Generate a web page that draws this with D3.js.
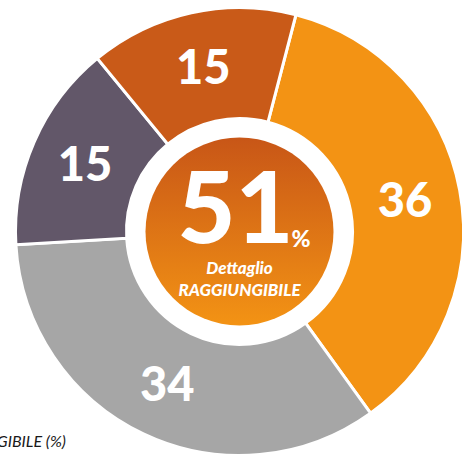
<!DOCTYPE html>
<html>
<head>
<meta charset="utf-8">
<script src="https://cdn.jsdelivr.net/npm/d3@7"></script>
<style>
  html, body { margin: 0; padding: 0; background: #fff; }
  svg { display: block; }
</style>
</head>
<body>
<div id="chart"></div>
<script>
var values = [36, 34, 15, 15];
var colors = ["#F39314", "#A6A6A6", "#625769", "#C95A18"];
var centerValue = 51;
var centerLines = ["Dettaglio", "RAGGIUNGIBILE"];
var footText = "RAGGIUNGIBILE (%)";

function init() {
    var w = 462, h = 457;
    var cx = 239.5, cy = 231.5;
    var outerR = 224, innerR = 113, discR = 94;
    var start = 14.6 * Math.PI / 180;
    var font = "Lato, 'Open Sans', sans-serif";

    var svg = d3.select("#chart").append("svg")
        .attr("width", w)
        .attr("height", h);

    var grad = svg.append("defs").append("linearGradient")
        .attr("id", "centerGrad")
        .attr("x1", 0).attr("y1", 0).attr("x2", 0).attr("y2", 1);
    grad.append("stop").attr("offset", "0%").attr("stop-color", "#C85617");
    grad.append("stop").attr("offset", "100%").attr("stop-color", "#F39314");

    var pie = d3.pie()
        .sort(null)
        .startAngle(start)
        .endAngle(start + 2 * Math.PI);

    var arc = d3.arc().innerRadius(innerR).outerRadius(outerR);

    var g = svg.append("g").attr("transform", "translate(" + cx + "," + cy + ")");

    var arcs = pie(values);

    g.selectAll("path.slice")
        .data(arcs)
        .enter()
        .append("path")
        .attr("class", "slice")
        .attr("d", arc)
        .attr("fill", function(d, i) { return colors[i]; })
        .attr("stroke", "#fff")
        .attr("stroke-width", 3);

    g.selectAll("text.val")
        .data(arcs)
        .enter()
        .append("text")
        .attr("class", "val")
        .attr("transform", function(d) {
            var c = arc.centroid(d);
            return "translate(" + c[0] + "," + c[1] + ")";
        })
        .attr("dy", "0.36em")
        .attr("text-anchor", "middle")
        .attr("font-family", font)
        .attr("font-weight", 900)
        .attr("font-size", "47px")
        .attr("fill", "#fff")
        .text(function(d) { return d.data; });

    // center disc
    g.append("circle")
        .attr("r", discR)
        .attr("fill", "url(#centerGrad)");

    g.append("text")
        .attr("x", -4)
        .attr("y", 11.5)
        .attr("text-anchor", "middle")
        .attr("font-family", font)
        .attr("font-weight", 900)
        .attr("font-size", "100px")
        .attr("fill", "#fff")
        .text(centerValue);

    g.append("text")
        .attr("x", 52)
        .attr("y", 15.5)
        .attr("font-family", font)
        .attr("font-weight", 900)
        .attr("font-size", "23px")
        .attr("fill", "#fff")
        .text("%");

    g.selectAll("text.sub")
        .data(centerLines)
        .enter()
        .append("text")
        .attr("class", "sub")
        .attr("x", 0)
        .attr("y", function(d, i) { return 42 + i * 22; })
        .attr("text-anchor", "middle")
        .attr("font-family", font)
        .attr("font-style", "italic")
        .attr("font-weight", 900)
        .attr("font-size", "17px")
        .attr("fill", "#fff")
        .text(function(d) { return d; });

    svg.append("text")
        .attr("x", 66)
        .attr("y", 447)
        .attr("text-anchor", "end")
        .attr("font-family", font)
        .attr("font-style", "italic")
        .attr("font-size", "16px")
        .attr("fill", "#1a1a1a")
        .text(footText);
}
window.onload = init;
</script>
</body>
</html>
